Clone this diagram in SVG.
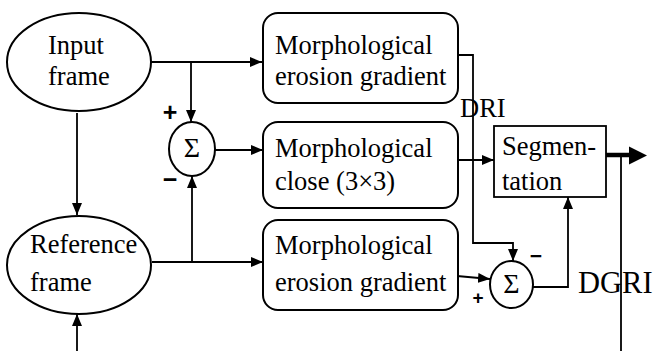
<svg xmlns="http://www.w3.org/2000/svg" width="654" height="351" viewBox="0 0 654 351">
  <defs>
    <marker id="arrow" markerUnits="userSpaceOnUse" markerWidth="13" markerHeight="11" refX="12" refY="5" orient="auto">
      <path d="M0,0 L12,5 L0,10 z" fill="#000"/>
    </marker>
    <style>
      .shape { fill: #fff; stroke: #000; stroke-width: 2; }
      .wire { fill: none; stroke: #000; stroke-width: 1.8; }
      .lbl { font-size: 26.5px; fill: #000; }
      .sig { font-size: 28px; fill: #000; text-anchor: middle; }
      .sign { font-weight: bold; fill: #000; text-anchor: middle; }
    </style>
  </defs>

  <rect width="654" height="351" fill="#fff"/>

  <!-- connectors -->
  <g id="connectors">
    <path class="wire" d="M151,62 H262" marker-end="url(#arrow)"/>
    <path class="wire" d="M191,62 V122" marker-end="url(#arrow)"/>
    <path class="wire" d="M152,262 H263" marker-end="url(#arrow)"/>
    <path class="wire" d="M192,262 V176" marker-end="url(#arrow)"/>
    <path class="wire" d="M215,150 H263" marker-end="url(#arrow)"/>
    <path class="wire" d="M77,113 V215" marker-end="url(#arrow)"/>
    <path class="wire" d="M77,351 V314" marker-end="url(#arrow)"/>
    <path class="wire" d="M458,55 H473 V243 H513 V261" marker-end="url(#arrow)"/>
    <path class="wire" d="M458,160 H494" marker-end="url(#arrow)"/>
    <path class="wire" d="M457,276 L490,279" marker-end="url(#arrow)"/>
    <path class="wire" d="M533,287 H568 V197" marker-end="url(#arrow)"/>
    <path d="M606,155 H630" fill="none" stroke="#000" stroke-width="4.5"/>
    <path d="M629,146.5 L647,155.5 L629,164.5 z" fill="#000"/>
    <path class="wire" d="M621,157 V351"/>
  </g>

  <!-- serif labels -->
  <g font-family="'Liberation Serif', 'DejaVu Serif', serif">
    <g id="input-frame">
      <ellipse class="shape" cx="79" cy="62" rx="72" ry="49"/>
      <text class="lbl" x="48" y="54">Input</text>
      <text class="lbl" x="48" y="85">frame</text>
    </g>

    <g id="reference-frame">
      <ellipse class="shape" cx="79" cy="265" rx="72" ry="49"/>
      <text class="lbl" x="30" y="253">Reference</text>
      <text class="lbl" x="30" y="291">frame</text>
    </g>

    <g id="sum1">
      <ellipse class="shape" cx="192" cy="149" rx="23" ry="27"/>
      <text class="sig" x="192" y="157">Σ</text>
      <text class="sign" x="170" y="121" font-size="25" font-family="'Liberation Sans', sans-serif">+</text>
      <text class="sign" x="170" y="188" font-size="25" font-family="'Liberation Sans', sans-serif">−</text>
    </g>

    <g id="erosion-gradient-1">
      <rect class="shape" x="263" y="13" width="195" height="90" rx="15"/>
      <text class="lbl" x="275" y="54">Morphological</text>
      <text class="lbl" x="275" y="85">erosion gradient</text>
    </g>

    <g id="close">
      <rect class="shape" x="263" y="122" width="195" height="86" rx="15"/>
      <text class="lbl" x="275" y="157">Morphological</text>
      <text class="lbl" x="275" y="190">close (3×3)</text>
    </g>

    <g id="erosion-gradient-2">
      <rect class="shape" x="263" y="220" width="195" height="90" rx="15"/>
      <text class="lbl" x="275" y="254">Morphological</text>
      <text class="lbl" x="275" y="291">erosion gradient</text>
    </g>

    <g id="sum2">
      <ellipse class="shape" cx="511.5" cy="284.5" rx="21.5" ry="23.5"/>
      <text class="sig" x="511.5" y="293">Σ</text>
      <text class="sign" x="478" y="304" font-size="19" font-family="'Liberation Sans', sans-serif">+</text>
      <text class="sign" x="536" y="263" font-size="21" font-family="'Liberation Sans', sans-serif">−</text>
    </g>

    <g id="segmentation">
      <rect x="494" y="126" width="112" height="71" fill="#fff" stroke="#000" stroke-width="1.8"/>
      <text class="lbl" x="502" y="155">Segmen-</text>
      <text class="lbl" x="502" y="190">tation</text>
    </g>

    <g id="labels">
      <text class="lbl" x="460" y="117">DRI</text>
      <text class="lbl" x="578" y="293" style="font-size:30.5px">DGRI</text>
    </g>
  </g>
</svg>
